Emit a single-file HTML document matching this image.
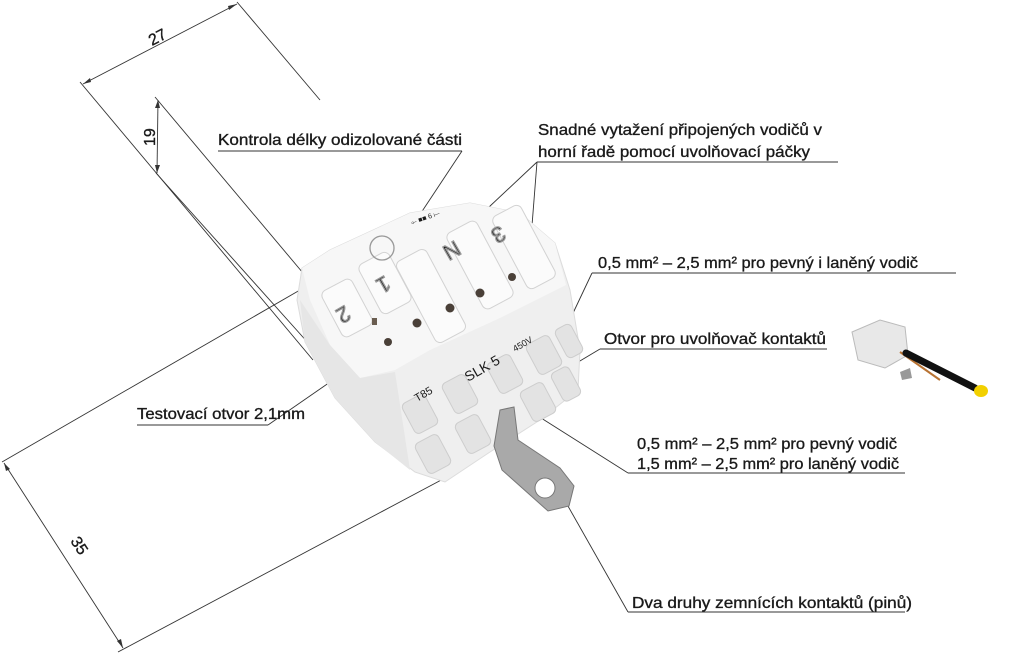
<!DOCTYPE html>
<html><head><meta charset="utf-8">
<style>
html,body{margin:0;padding:0;background:#fff;}
svg{display:block;}
text{font-family:"Liberation Sans",sans-serif;fill:#1a1a1a;}
.lbl{stroke:#1a1a1a;stroke-width:0.35;}
</style></head>
<body>
<svg width="1024" height="655" viewBox="0 0 1024 655" xmlns="http://www.w3.org/2000/svg">
<g stroke="#333" stroke-width="0.9" fill="none">
  <line x1="80" y1="82" x2="313" y2="360"/>
  <line x1="237" y1="2" x2="320" y2="100"/>
  <line x1="83" y1="84" x2="237" y2="4"/>
  <line x1="155" y1="97" x2="303" y2="273"/>
  <line x1="156" y1="173" x2="310" y2="345"/>
  <line x1="158" y1="100" x2="157" y2="173"/>
  <line x1="2" y1="462" x2="300" y2="290"/>
  <line x1="118" y1="652" x2="445" y2="478"/>
  <line x1="4" y1="463" x2="123" y2="648"/>
  <line x1="218" y1="151" x2="462" y2="151"/>
  <line x1="462" y1="151" x2="411" y2="228"/>
  <line x1="537" y1="162" x2="838" y2="162"/>
  <line x1="537" y1="162" x2="472" y2="223"/>
  <line x1="537" y1="162" x2="527" y2="289"/>
  <line x1="592" y1="273" x2="956" y2="273"/>
  <line x1="592" y1="273" x2="557" y2="347"/>
  <line x1="600" y1="349" x2="827" y2="349"/>
  <line x1="600" y1="349" x2="543" y2="383"/>
  <line x1="137" y1="425" x2="268" y2="425"/>
  <line x1="268" y1="425" x2="385" y2="344"/>
  <line x1="628" y1="473" x2="905" y2="473"/>
  <line x1="628" y1="473" x2="530" y2="411"/>
  <line x1="628" y1="612" x2="905" y2="612"/>
  <line x1="628" y1="612" x2="560" y2="492"/>
</g>
<g fill="#333">
  <polygon points="83,84 90,78 91,82"/>
  <polygon points="237,4 229,10 228,6"/>
  <polygon points="158,100 155,108 160,108"/>
  <polygon points="157,173 155,165 160,165"/>
  <polygon points="4,463 6,471 10,469"/>
  <polygon points="123,648 117,641 121,639"/>
</g>
<text class="lbl" x="0" y="0" font-size="16" transform="translate(152,46) rotate(-27.5)">27</text>
<text class="lbl" x="0" y="0" font-size="16" transform="translate(155,146) rotate(-90)">19</text>
<text class="lbl" x="0" y="0" font-size="16" transform="translate(70,541) rotate(57)">35</text>

<g>
  <polygon points="302,268 330,250 410,213 470,203 520,213 555,243 570,290 580,350 578,390 540,420 490,452 445,482 415,472 375,442 335,398 305,342 297,300" fill="#efefef" stroke="#dcdcdc"/>
  <polygon points="302,268 330,250 410,213 470,203 520,213 555,243 566,285 500,318 430,350 395,370 360,378 330,345 310,300" fill="#f7f7f7"/>
  <polygon points="300,300 330,345 360,378 395,372 410,470 375,442 335,398 305,342" fill="#e6e6e6"/>
  <g fill="#fbfbfb" stroke="#d2d2d2" stroke-width="1">
    <rect x="330" y="282" width="34" height="52" rx="6" transform="rotate(-28 347 308)"/>
    <rect x="368" y="255" width="34" height="56" rx="6" transform="rotate(-28 385 283)"/>
    <rect x="414" y="250" width="34" height="92" rx="6" transform="rotate(-28 431 296)"/>
    <rect x="463" y="222" width="34" height="86" rx="6" transform="rotate(-28 480 265)"/>
    <rect x="508" y="206" width="32" height="82" rx="6" transform="rotate(-28 524 247)"/>
  </g>
  <g fill="#e3e3e3" stroke="#cdcdcd" stroke-width="1">
    <rect x="407" y="397" width="26" height="34" rx="5" transform="rotate(-28 420 414)"/>
    <rect x="447" y="377" width="26" height="34" rx="5" transform="rotate(-28 460 394)"/>
    <rect x="492" y="357" width="26" height="34" rx="5" transform="rotate(-28 505 374)"/>
    <rect x="531" y="338" width="26" height="34" rx="5" transform="rotate(-28 544 355)"/>
    <rect x="560" y="325" width="18" height="32" rx="5" transform="rotate(-28 569 341)"/>
    <rect x="420" y="437" width="26" height="34" rx="5" transform="rotate(-28 433 454)"/>
    <rect x="460" y="417" width="26" height="34" rx="5" transform="rotate(-28 473 434)"/>
    <rect x="525" y="385" width="26" height="34" rx="5" transform="rotate(-28 538 402)"/>
    <rect x="556" y="368" width="20" height="32" rx="5" transform="rotate(-28 566 384)"/>
  </g>
  <g fill="#4a4038">
    <circle cx="388" cy="342" r="4"/>
    <circle cx="417" cy="323" r="4.5"/>
    <circle cx="450" cy="308" r="4.5"/>
    <circle cx="480" cy="293" r="4.5"/>
    <circle cx="512" cy="277" r="4"/>
    <rect x="372" y="318" width="5" height="7" fill="#6a5d50"/>
  </g>
  <text x="0" y="0" font-size="22" transform="translate(345,305) rotate(150)" fill="none" stroke="#999" stroke-width="1.3">2</text>
  <text x="0" y="0" font-size="22" transform="translate(385,275) rotate(150)" fill="none" stroke="#999" stroke-width="1.3">1</text>
  <text x="0" y="0" font-size="22" transform="translate(455,240) rotate(150)" fill="none" stroke="#999" stroke-width="1.3">N</text>
  <text x="0" y="0" font-size="22" transform="translate(500,225) rotate(150)" fill="none" stroke="#999" stroke-width="1.3">3</text>
  <circle cx="382" cy="248" r="12" fill="none" stroke="#999" stroke-width="1.3"/>
  <text x="0" y="0" font-size="11" fill="#444" transform="translate(417,402) rotate(-30)">T85</text>
  <text x="0" y="0" font-size="14" fill="#777" transform="translate(468,382) rotate(-30)">SLK 5</text>
  <text x="0" y="0" font-size="9" fill="#444" transform="translate(515,352) rotate(-30)">450V</text>
  <text x="0" y="0" font-size="7" fill="#444" transform="translate(412,225) rotate(-20)">⟜ ■■ 6 ⟝</text>
  <path d="M500,410 L514,407 L518,440 L560,468 L574,486 L569,506 L548,511 L502,470 L494,446 Z" fill="#a9a9a9" stroke="#777"/>
  <circle cx="545" cy="488" r="10" fill="#fff" stroke="#777"/>
</g>

<g>
  <polygon points="852,332 880,320 905,327 908,355 885,368 858,360" fill="#e8e8e8" stroke="#bbb"/>
  <polygon points="900,372 910,368 912,378 902,380" fill="#999"/>
  <line x1="900" y1="352" x2="940" y2="380" stroke="#b87333" stroke-width="2"/>
  <line x1="906" y1="353" x2="975" y2="388" stroke="#111" stroke-width="7" stroke-linecap="round"/>
  <ellipse cx="981" cy="391" rx="7" ry="6" fill="#f2d000"/>
</g>

<text class="lbl" x="218" y="145" font-size="16" textLength="244" lengthAdjust="spacingAndGlyphs">Kontrola délky odizolované části</text>
<text class="lbl" x="538" y="135" font-size="16" textLength="284" lengthAdjust="spacingAndGlyphs">Snadné vytažení připojených vodičů v</text>
<text class="lbl" x="538" y="157" font-size="16" textLength="272" lengthAdjust="spacingAndGlyphs">horní řadě pomocí uvolňovací páčky</text>
<text class="lbl" x="598" y="268" font-size="16" textLength="320" lengthAdjust="spacingAndGlyphs">0,5 mm² – 2,5 mm² pro pevný i laněný vodič</text>
<text class="lbl" x="604" y="344" font-size="16" textLength="222" lengthAdjust="spacingAndGlyphs">Otvor pro uvolňovač kontaktů</text>
<text class="lbl" x="137" y="419" font-size="16" textLength="168" lengthAdjust="spacingAndGlyphs">Testovací otvor 2,1mm</text>
<text class="lbl" x="637" y="449" font-size="16" textLength="260" lengthAdjust="spacingAndGlyphs">0,5 mm² – 2,5 mm² pro pevný vodič</text>
<text class="lbl" x="637" y="469" font-size="16" textLength="262" lengthAdjust="spacingAndGlyphs">1,5 mm² – 2,5 mm² pro laněný vodič</text>
<text class="lbl" x="632" y="608" font-size="16" textLength="280" lengthAdjust="spacingAndGlyphs">Dva druhy zemnících kontaktů (pinů)</text>
</svg>
</body></html>
